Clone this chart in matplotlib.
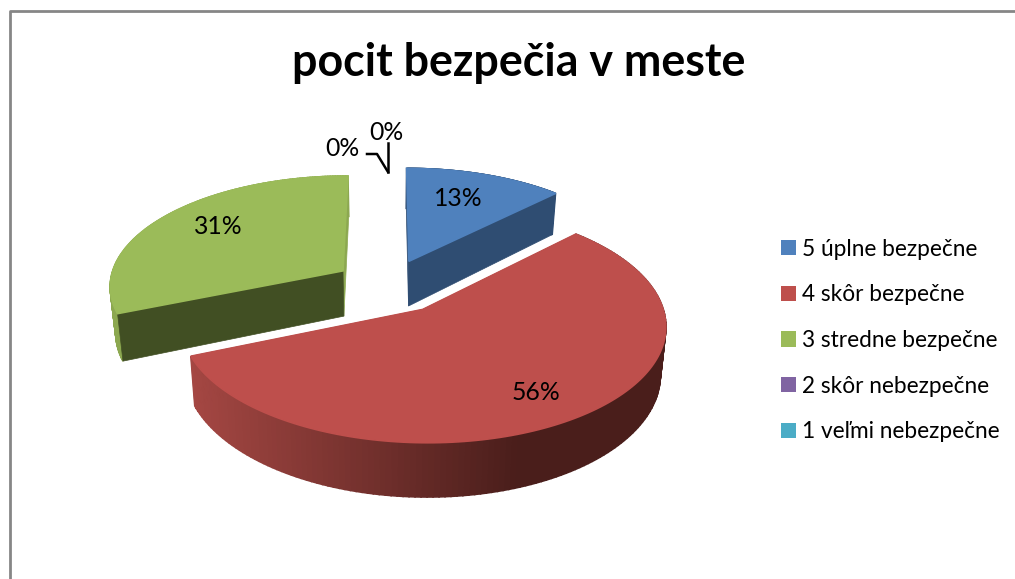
import matplotlib
matplotlib.use('Agg')
import matplotlib.pyplot as plt
from matplotlib.patches import Patch
import numpy as np

plt.rcParams['font.family'] = ['Lato', 'DejaVu Sans']

title = 'pocit bezpečia v meste'
categories = ['5 úplne bezpečne', '4 skôr bezpečne', '3 stredne bezpečne',
              '2 skôr nebezpečne', '1 veľmi nebezpečne']
values = [12.5, 56.25, 31.25, 0, 0]
explode = [0.24, 0.26, 0.235, 0.25, 0.25]
top_colors = ['#4F81BD', '#BE4F4C', '#9BBB59', '#8064A2', '#4BACC6']
wall_colors = ['#2F4D72', '#7A3330', '#414F23', '#4D3C61', '#2D6777']
end_colors = ['#2F4D72', '#7A3330', '#8CA850', '#4D3C61', '#2D6777']
rim_colors = ['#2F4D72', '#7A3330', '#8CA850', '#4D3C61', '#2D6777']
label_pos = [(458, 198), (536, 392), (218, 226)]
zero_label_pos = [(342, 148), (386, 132)]

# fake 3d: ground plane seen in perspective, all in pixels
cx, cy = 388, 285
rx, ry = 234, 110
persp = 0.125
depth = 46
shrink = 0.98


def project(u, v):
    w = 1 + persp * v
    return cx + rx * u / w, cy - ry * v / w


def lowered(x, y, v):
    w = 1 + persp * v
    return cx + (x - cx) * shrink, y + depth / w


def mix(c1, c2, t):
    a = np.array(matplotlib.colors.to_rgb(c1))
    b = np.array(matplotlib.colors.to_rgb(c2))
    return tuple(a + (b - a) * t)


fig = plt.figure(figsize=(10.15, 5.79), dpi=100)
ax = fig.add_axes([0, 0, 1, 1])
ax.set_xlim(0, 1015)
ax.set_ylim(579, 0)
ax.axis('off')

# chart frame, runs off the picture right and bottom
ax.plot([10.5, 10.5, 1015], [579, 10.5, 10.5], color='#868686', lw=2, zorder=1)

total = sum(values)
edges = np.cumsum([0] + values) / total * 2 * np.pi

# back slices first, the red one sits in front
for order, i in enumerate([2, 0, 1]):
    base = 2 + order * 4
    a0, a1 = edges[i], edges[i + 1]
    mid = (a0 + a1) / 2
    ox, oy = explode[i] * np.sin(mid), explode[i] * np.cos(mid)
    t = np.linspace(a0, a1, 160)
    u = ox + np.sin(t)
    v = oy + np.cos(t)
    px, py = project(u, v)
    bx, by = lowered(px, py, v)

    # cut faces
    ax_, ay_ = project(ox, oy)
    abx, aby = lowered(ax_, ay_, oy)
    ax.fill([px[-1], ax_, abx, bx[-1]], [py[-1], ay_, aby, by[-1]],
            color=end_colors[i], lw=0.5, zorder=base)

    # outer rim, shaded strip by strip
    for j in range(len(t) - 1):
        if i == 1:
            f = np.clip((px[j] - 190) / 330, 0, 1)
            col = mix('#A54743', '#4A1E1B', f)
        else:
            col = rim_colors[i]
        ax.fill([px[j], px[j + 1], bx[j + 1], bx[j]],
                [py[j], py[j + 1], by[j + 1], by[j]],
                facecolor=col, edgecolor=col, lw=1.2, zorder=base + 1)

    # this face has to cover the rim where they meet
    ax.fill([px[0], ax_, abx, bx[0]], [py[0], ay_, aby, by[0]],
            color=wall_colors[i], lw=0.5, zorder=base + 2)

    ax.fill(np.r_[ax_, px], np.r_[ay_, py], facecolor=top_colors[i], edgecolor=top_colors[i],
            lw=1.2, zorder=base + 3)

for i, (x, y) in enumerate(label_pos):
    ax.text(x, y, '%d%%' % int(values[i] + 0.5), fontsize=17.8, ha='center', va='center',
            color='black', zorder=20)

for (x, y), val in zip(zero_label_pos, values[3:]):
    ax.text(x, y, '%d%%' % val, fontsize=17.8, ha='center', va='center', color='black', zorder=20)

# leader lines of the two empty slices
ax.plot([367, 377, 388], [154, 154, 172], color='black', lw=1.8, zorder=20)
ax.plot([388, 388], [143, 172], color='black', lw=1.8, zorder=20)

ax.text(519, 63, title, fontsize=32.2, fontweight='bold', ha='center', va='center', color='black')

handles = [Patch(facecolor=c, edgecolor='none', label=n) for c, n in zip(top_colors, categories)]
ax.legend(handles=handles, loc='upper left', bbox_to_anchor=(781, 238.5), bbox_transform=ax.transData,
          frameon=False, fontsize=16.3, handlelength=0.66, handleheight=0.66, handletextpad=0.27,
          labelspacing=1.09, borderpad=0, borderaxespad=0)

fig.savefig('out.png', dpi=100)
